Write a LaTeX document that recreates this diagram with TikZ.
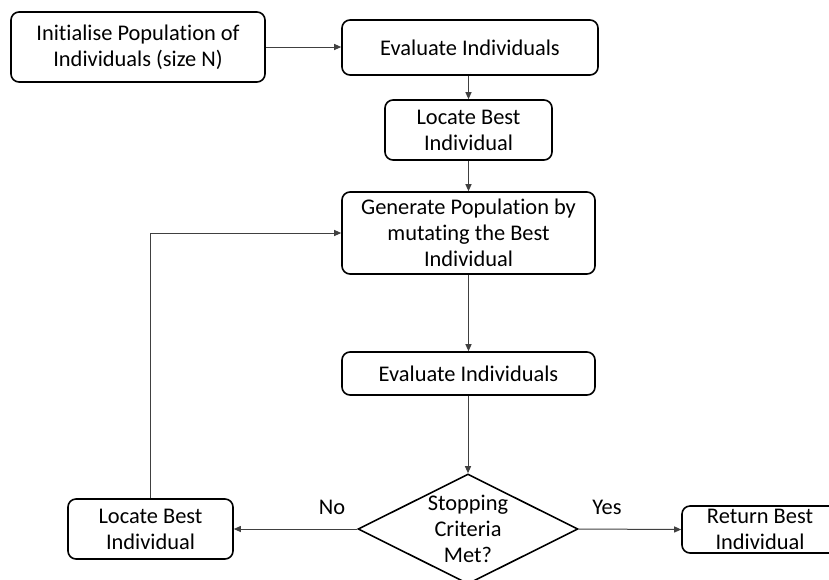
\documentclass[tikz,border=0pt]{standalone}
\usepackage{fontspec}
\setmainfont[RawFeature={-liga;-clig;-calt;-rlig}]{Carlito}
\usetikzlibrary{positioning}
\usetikzlibrary{arrows.meta}
\usetikzlibrary{shapes.geometric}

\begin{document}
\begin{tikzpicture}[
        x=0.5pt, y=-0.5pt,
        font=\fontsize{11.2}{12.9}\selectfont,
        Box/.style={rectangle, rounded corners=4pt, draw=black!100, fill=white!100, line width=0.8pt, inner sep=0pt, align=center},
        Test/.style={diamond, draw=black!100, fill=white!100, line width=0.8pt, inner sep=0pt, aspect=2, align=center},
        Arr/.style={-{Triangle[length=3.5pt, width=3pt]}, draw=black!75, line width=0.5pt},
        ]
            \useasboundingbox (0,0) rectangle (829,579);

            \node[Box, minimum width=127pt, minimum height=35pt] (Init) at (138,47) {Initialise Population of\\Individuals (size N)};
            \node[Box, minimum width=128pt, minimum height=27.5pt] (Eval1) at (470,47.5) {Evaluate Individuals};
            \node[Box, minimum width=83.5pt, minimum height=30pt] (Best1) at (468.5,130) {Locate Best\\Individual};
            \node[Box, minimum width=126.5pt, minimum height=41pt] (Gen) at (468.5,233) {Generate Population by\\mutating the Best\\Individual};
            \node[Box, minimum width=126.5pt, minimum height=21.5pt] (Eval2) at (468.5,373.5) {Evaluate Individuals};
            \node[Test, minimum width=110pt, minimum height=55pt] (Stop) at (468,529) {Stopping\\Criteria\\Met?};
            \node[Box, minimum width=82.5pt, minimum height=30pt] (Best2) at (150.5,529) {Locate Best\\Individual};
            \node[Box, minimum width=78pt, minimum height=23.5pt] (Ret) at (760,529.5) {Return Best\\Individual};

            % branch labels
            \node (No) at (332,507) {No};
            \node (Yes) at (607,507) {Yes};

            \draw[Arr] (Init.east) -- (Eval1.west |- Init.east);
            \draw[Arr] (Eval1.south -| Best1.north) -- (Best1.north);
            \draw[Arr] (Best1) -- (Gen);
            \draw[Arr] (Gen) -- (Eval2);
            \draw[Arr] (Eval2.south -| Stop.north) -- (Stop.north);
            \draw[Arr] (Stop.west) -- (Best2.east);
            \draw[Arr] (Stop.east) -- (Ret.west);
            \draw[Arr] (Best2.north) |- (Gen.west);
        \end{tikzpicture}
\end{document}
